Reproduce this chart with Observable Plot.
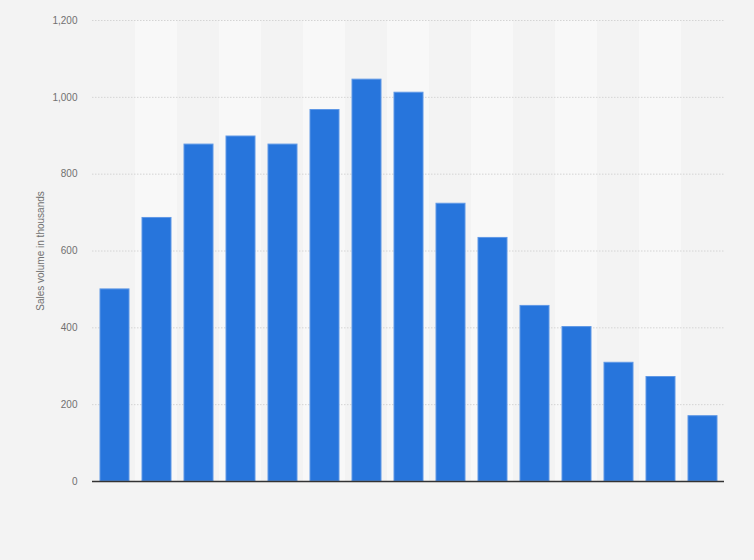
<!DOCTYPE html>
<html>
<head>
<meta charset="utf-8">
<script src="https://cdn.jsdelivr.net/npm/d3@7"></script>
<script src="https://cdn.jsdelivr.net/npm/@observablehq/plot@0.6"></script>
<style>
  html, body { margin: 0; padding: 0; background: #f3f3f3; }
  #chart svg { display: block; }
</style>
</head>
<body>
<div id="chart"></div>
<script>
const categories = ["1","2","3","4","5","6","7","8","9","10","11","12","13","14","15"];
const salesValues = [500, 686, 877, 898, 877, 967, 1046, 1012, 723, 634, 457, 402, 309, 272, 170];
const yTicks = [0, 200, 400, 600, 800, 1000, 1200];

const data = categories.map((c, i) => ({ category: c, value: salesValues[i] }));
const bands = categories.filter((c, i) => i % 2 === 1).map(c => ({ category: c }));

const chart = Plot.plot({
  width: 754,
  height: 560,
  marginLeft: 92,
  marginRight: 30,
  marginTop: 20,
  marginBottom: 79,
  style: { background: "#f3f3f3", fontFamily: "'Liberation Sans', Arial, sans-serif", fontSize: "10px", color: "#666" },
  x: { domain: categories, padding: 0, axis: null },
  y: { domain: [0, 1200], ticks: yTicks, tickFormat: d3.format(","), label: null },
  marks: [
    Plot.barY(bands, { x: "category", y1: 0, y2: 1200, fill: "#f8f8f8" }),
    Plot.gridY(yTicks.filter(t => t > 0), { stroke: "#d4d4d4", strokeOpacity: 1, strokeDasharray: "1.5,1.5" }),
    Plot.axisY({ ticks: yTicks, tickFormat: d3.format(","), tickSize: 0, tickPadding: 15, label: null, fill: "#707070" }),
    Plot.text(["Sales volume in thousands"], { frameAnchor: "left", textAnchor: "middle", dx: -52, rotate: -90, fill: "#707070", fontSize: 10 }),
    Plot.barY(data, { x: "category", y: "value", fill: "#2775dc", stroke: "#5f98e6", strokeWidth: 1, insetLeft: 7, insetRight: 6 }),
    Plot.ruleY([0], { stroke: "#333", strokeWidth: 1.5 })
  ]
});
document.getElementById("chart").append(chart);
</script>
</body>
</html>
